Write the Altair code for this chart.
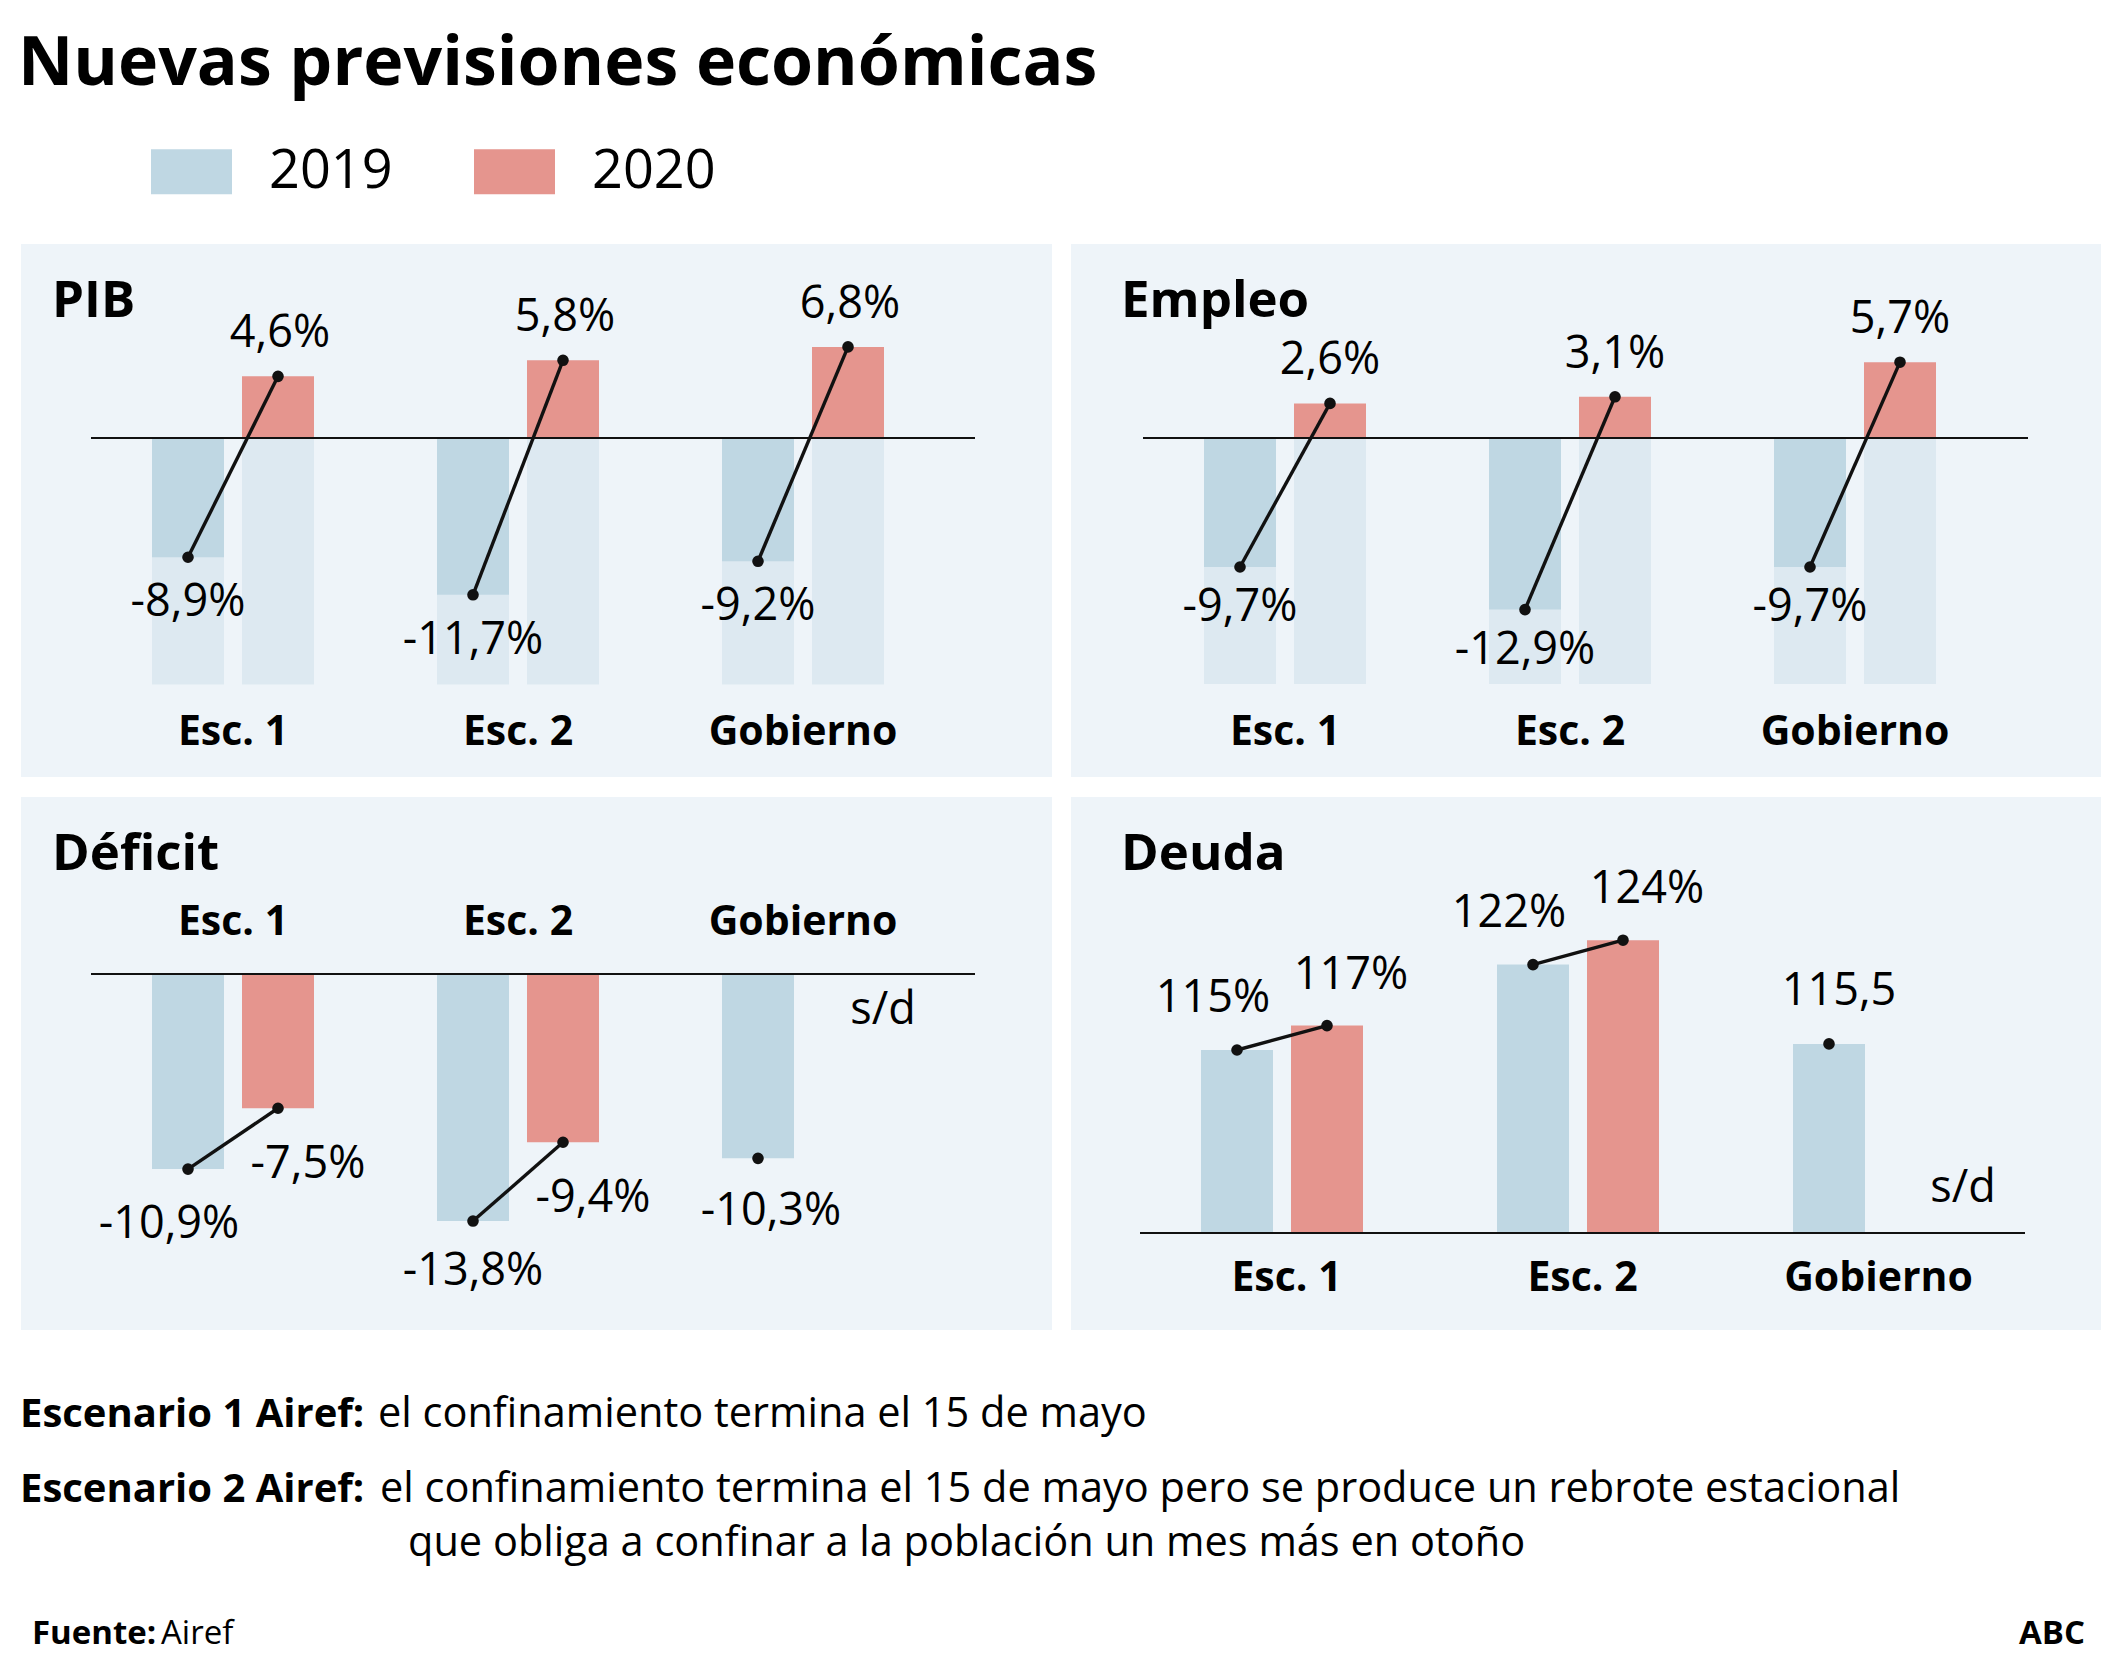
import altair as alt
import pandas as pd

# ---------------- data ----------------
CATEGORIES = ["Esc. 1", "Esc. 2", "Gobierno"]
YEARS = ["2019", "2020"]

PIB_2019 = [-8.9, -11.7, -9.2]
PIB_2020 = [4.6, 5.8, 6.8]
EMPLEO_2019 = [-9.7, -12.9, -9.7]
EMPLEO_2020 = [2.6, 3.1, 5.7]
DEFICIT_2019 = [-10.9, -13.8, -10.3]
DEFICIT_2020 = [-7.5, -9.4, None]
DEUDA_2019 = [115, 122, 115.5]
DEUDA_2020 = [117, 124, None]

PANEL_TITLES = ["PIB", "Empleo", "Déficit", "Deuda"]
TITLE = "Nuevas previsiones económicas"
MISSING = "s/d"
NOTE1_BOLD = "Escenario 1 Airef:"
NOTE1_TEXT = "el confinamiento termina el 15 de mayo"
NOTE2_BOLD = "Escenario 2 Airef:"
NOTE2_TEXT = "el confinamiento termina el 15 de mayo pero se produce un rebrote estacional"
NOTE2_TEXT_2 = "que obliga a confinar a la población un mes más en otoño"
SOURCE_BOLD = "Fuente:"
SOURCE_TEXT = "Airef"
CREDIT = "ABC"

# ---------------- style ----------------
FONT = "Open Sans"
C2019 = "#bfd7e3"
C2020 = "#e5958e"
GHOST = "#dde9f1"
BG = "#eef4f9"
INK = "#111111"
PANEL_H = 533


def fmt_pct(v):
    return f"{v:.1f}".replace(".", ",") + "%"


def fmt_deuda(v):
    return f"{int(v)}%" if float(v).is_integer() else f"{v}".replace(".", ",")


def panel_df(v19, v20, fmt):
    rows = []
    for c, a, b in zip(CATEGORIES, v19, v20):
        for yr, v in (("2019", a), ("2020", b)):
            rows.append({"cat": c, "year": yr, "value": v,
                         "label": fmt(v) if v is not None else MISSING})
    return pd.DataFrame(rows)


def band_scale(W, start, group, step):
    pi = 1 - group / step
    po = (W / step - (3 - pi)) / 2
    align = start / (W - step * (3 - pi))
    return alt.Scale(domain=CATEGORIES, paddingInner=pi, paddingOuter=po, align=align)


def offset_scale(bar, gap):
    return alt.Scale(domain=YEARS, paddingInner=gap / (bar + gap), paddingOuter=0)


def y_scale(zero_px, ppu, base):
    return alt.Scale(domain=[base - (PANEL_H - zero_px) / ppu, base + zero_px / ppu],
                     nice=False, zero=False)


COLOR = alt.Color(
    "year:N",
    scale=alt.Scale(domain=YEARS, range=[C2019, C2020]),
    legend=alt.Legend(
        title=None, orient="none", legendX=130, legendY=123, direction="horizontal",
        symbolType="M-1,-0.556H1V0.556H-1Z", symbolSize=6561, symbolStrokeWidth=0,
        symbolOpacity=1, labelFontSize=54, labelFont=FONT, labelColor="#000000",
        labelOffset=37, columnPadding=81, padding=0,
    ),
)


def panel(title, v19, v20, fmt, W, start, bar, gap, step, zero_px, ppu, base,
          ghost, line_x, title_x, cat_y, label_groups, sd):
    df = panel_df(v19, v20, fmt)
    X = alt.X("cat:N", scale=band_scale(W, start, 2 * bar + gap, step), axis=None)
    XO = alt.XOffset("year:N", scale=offset_scale(bar, gap))
    ys = y_scale(zero_px, ppu, base)
    Y = alt.Y("value:Q", scale=ys, axis=None)
    src = alt.Chart(df)
    valid = src.transform_filter("isValid(datum.value)")
    layers = []
    if ghost is not None:
        layers.append(
            src.transform_calculate(g0=str(base), g1=str(ghost))
            .mark_bar(color=GHOST)
            .encode(x=X, xOffset=XO, y=alt.Y("g0:Q", scale=ys, axis=None), y2="g1:Q")
        )
    layers.append(
        valid.transform_calculate(b=str(base)).mark_bar()
        .encode(x=X, xOffset=XO, y=Y, y2="b:Q", color=COLOR)
    )
    layers.append(
        alt.Chart(pd.DataFrame({"b": [base]}))
        .mark_rule(color=INK, strokeWidth=2.2)
        .encode(y=alt.Y("b:Q", scale=ys, axis=None), x=alt.value(line_x[0]), x2=alt.value(line_x[1]))
    )
    layers.append(
        valid.mark_line(color=INK, strokeWidth=3.4)
        .encode(x=X, xOffset=XO, y=Y, detail="cat:N", order=alt.Order("year:O"))
    )
    layers.append(
        valid.mark_circle(color=INK, size=135, opacity=1).encode(x=X, xOffset=XO, y=Y)
    )
    for flt, dx, dy in label_groups:
        layers.append(
            valid.transform_filter(flt)
            .mark_text(font=FONT, fontSize=45, dx=dx, dy=dy, baseline="middle", color="#000000")
            .encode(x=X, xOffset=XO, y=Y, text="label:N")
        )
    if sd is not None:
        layers.append(
            src.transform_filter("!isValid(datum.value)")
            .mark_text(font=FONT, fontSize=45, dx=sd[0], baseline="middle", color="#000000")
            .encode(x=X, xOffset=XO, y=alt.value(sd[1]), text="label:N")
        )
    layers.append(
        alt.Chart(pd.DataFrame({"cat": CATEGORIES}))
        .mark_text(font=FONT, fontSize=41, fontWeight="bold", baseline="middle", color="#000000")
        .encode(x=X, y=alt.value(cat_y), text="cat:N")
    )
    layers.append(
        alt.Chart(pd.DataFrame({"t": [title]}))
        .mark_text(font=FONT, fontSize=51, fontWeight="bold", align="left",
                   baseline="alphabetic", color="#000000")
        .encode(x=alt.value(title_x), y=alt.value(73), text="t:N")
    )
    return alt.layer(*layers).properties(
        width=W, height=PANEL_H, view=alt.ViewBackground(fill=BG, strokeWidth=0)
    )


pib = panel(PANEL_TITLES[0], PIB_2019, PIB_2020, fmt_pct, W=1031, start=131, bar=72, gap=18,
            step=285, zero_px=194, ppu=13.4, base=0, ghost=-18.4, line_x=(70, 954),
            title_x=31, cat_y=489,
            label_groups=[("datum.year == '2019'", 0, 45), ("datum.year == '2020'", 2, -43)],
            sd=None)
emp = panel(PANEL_TITLES[1], EMPLEO_2019, EMPLEO_2020, fmt_pct, W=1030, start=133, bar=72, gap=18,
            step=285, zero_px=194, ppu=13.3, base=0, ghost=-18.5, line_x=(72, 957),
            title_x=50, cat_y=489,
            label_groups=[("datum.year == '2019'", 0, 40), ("datum.year == '2020'", 0, -43)],
            sd=None)
dfc = panel(PANEL_TITLES[2], DEFICIT_2019, DEFICIT_2020, fmt_pct, W=1031, start=131, bar=72, gap=18,
            step=285, zero_px=177, ppu=17.9, base=0, ghost=None, line_x=(70, 954),
            title_x=31, cat_y=126,
            label_groups=[("datum.year == '2019' && datum.cat == 'Esc. 1'", -19, 55),
                          ("datum.year == '2019' && datum.cat == 'Esc. 2'", 0, 50),
                          ("datum.year == '2019' && datum.cat == 'Gobierno'", 13, 53),
                          ("datum.year == '2020'", 30, 56)],
            sd=(35, 213))
deu = panel(PANEL_TITLES[3], DEUDA_2019, DEUDA_2020, fmt_deuda, W=1030, start=130, bar=77, gap=17,
            step=296, zero_px=436, ppu=12.2, base=100, ghost=None, line_x=(69, 954),
            title_x=50, cat_y=482,
            label_groups=[("datum.year == '2019' && datum.cat != 'Gobierno'", -24, -52),
                          ("datum.year == '2019' && datum.cat == 'Gobierno'", 10, -53),
                          ("datum.year == '2020'", 24, -51)],
            sd=(44, 391))

one = pd.DataFrame({"k": [0]})


def txt(s, x, y, size, bold=False, align="left"):
    kw = {"fontWeight": "bold"} if bold else {}
    return (alt.Chart(one)
            .mark_text(font=FONT, fontSize=size, align=align, baseline="alphabetic",
                       color="#000000", **kw)
            .encode(x=alt.value(x), y=alt.value(y), text=alt.value(s)))


header = alt.layer(txt(TITLE, -3, 77, 68, bold=True)).properties(width=2080, height=216)

footer = alt.layer(
    txt(NOTE1_BOLD, -1, 77, 40, bold=True),
    txt(NOTE1_TEXT, 357, 77, 41.5),
    txt(NOTE2_BOLD, -1, 152, 40, bold=True),
    txt(NOTE2_TEXT, 359, 152, 41.5),
    txt(NOTE2_TEXT_2, 387, 206, 41.5),
    txt(SOURCE_BOLD, 11, 294, 33, bold=True),
    txt(SOURCE_TEXT, 140, 294, 33),
    txt(CREDIT, 2064, 294, 33, bold=True, align="right"),
).properties(width=2080, height=310)

grid = alt.vconcat(
    alt.hconcat(pib, emp, spacing=19),
    alt.hconcat(dfc, deu, spacing=19),
    spacing=20,
)

chart = (
    alt.vconcat(header, grid, footer, spacing=20)
    .resolve_scale(color="shared")
    .properties(padding={"left": 10, "top": 0, "right": 0, "bottom": 0})
    .configure(font=FONT)
    .configure_view(strokeWidth=0)
)

chart.save("out.html", embed_options={"renderer": "svg", "actions": False})
